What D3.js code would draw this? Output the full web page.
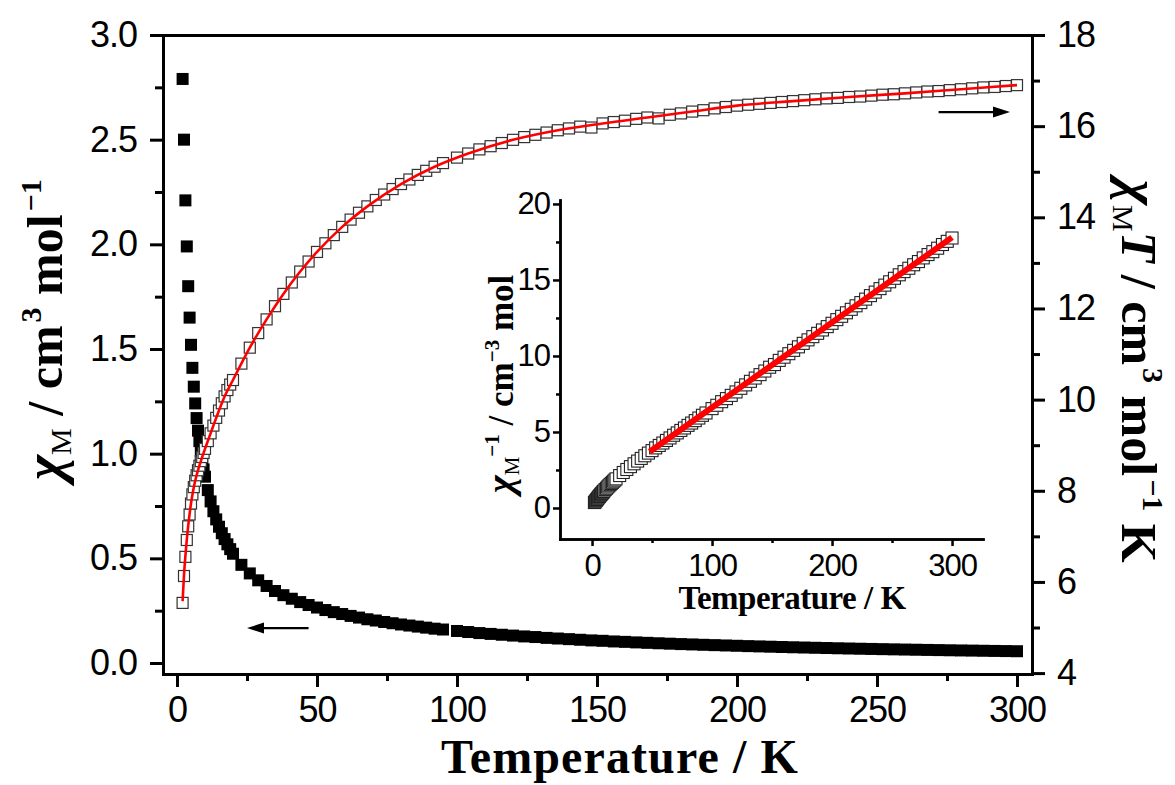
<!DOCTYPE html>
<html>
<head>
<meta charset="utf-8">
<script src="https://cdn.jsdelivr.net/npm/d3@7"></script>
<style>
  body { margin: 0; background: #fff; }
  .tick text { font-family: "Liberation Sans", Arial, sans-serif; fill: #000; }
  .serif { font-family: "Liberation Serif", "Times New Roman", serif; font-weight: bold; fill: #000; }
</style>
</head>
<body>
<svg id="chart" width="1175" height="785"></svg>
<script>
// temperature points (K), three runs
const temps = [2, 2.5, 3, 3.5, 4, 4.5, 5, 5.5, 6, 6.5, 7, 7.5, 8, 8.5, 9, 9.5, 10,
  11, 12, 13, 14, 15, 16, 17, 18, 19,
  20, 23, 26, 29, 32, 35, 38, 41, 44, 47, 50, 53, 56, 59, 62, 65, 68, 71, 74, 77, 80, 83, 86, 89, 92, 95,
  100, 104, 108, 112, 116, 120, 124, 128, 132, 136, 140, 144, 148, 152, 156, 160, 164, 168, 172, 176, 180,
  184, 188, 192, 196, 200, 204, 208, 212, 216, 220, 224, 228, 232, 236, 240, 244, 248, 252, 256, 260,
  264, 268, 272, 276, 280, 284, 288, 292, 296, 300];

// chi_M (cm3 mol-1), filled squares, left axis
const chiM = [2.79, 2.50, 2.21, 1.99, 1.80, 1.65, 1.52, 1.41, 1.32, 1.24, 1.17, 1.11, 1.06, 1.01, 0.965, 0.925, 0.89,
  0.826, 0.772, 0.725, 0.686, 0.651, 0.620, 0.592, 0.567, 0.544,
  0.522, 0.469, 0.428, 0.395, 0.368, 0.344, 0.324, 0.307, 0.291, 0.277, 0.265, 0.253, 0.243, 0.234, 0.225,
  0.217, 0.209, 0.203, 0.196, 0.190, 0.184, 0.179, 0.174, 0.169, 0.164, 0.160,
  0.153, 0.148, 0.143, 0.139, 0.135, 0.131, 0.127, 0.124, 0.120, 0.117, 0.114, 0.111, 0.108, 0.106, 0.103,
  0.101, 0.0985, 0.0964, 0.0943, 0.0923, 0.0904, 0.0887, 0.0870, 0.0854, 0.0838, 0.0823, 0.0807, 0.0793,
  0.0779, 0.0765, 0.0752, 0.0740, 0.0728, 0.0716, 0.0704, 0.0693, 0.0682, 0.0672, 0.0662, 0.0652, 0.0643,
  0.0634, 0.0625, 0.0617, 0.0608, 0.0600, 0.0593, 0.0585, 0.0577, 0.0570, 0.0563];

// chi_M T (cm3 mol-1 K), open squares, right axis
const chiMT = [5.54, 6.13, 6.55, 6.92, 7.22, 7.48, 7.72, 7.92, 8.08, 8.22, 8.34, 8.45, 8.55, 8.65, 8.74, 8.83, 8.92,
  9.09, 9.26, 9.43, 9.60, 9.76, 9.92, 10.07, 10.21, 10.33,
  10.43, 10.79, 11.14, 11.46, 11.76, 12.05, 12.32, 12.57, 12.81, 13.03, 13.24, 13.43, 13.61, 13.79, 13.95,
  14.10, 14.24, 14.38, 14.50, 14.62, 14.73, 14.83, 14.93, 15.02, 15.11, 15.19,
  15.31, 15.40, 15.49, 15.56, 15.63, 15.70, 15.76, 15.81, 15.86, 15.91, 15.95, 15.99, 15.97, 16.06, 16.09,
  16.12, 16.16, 16.19, 16.17, 16.25, 16.28, 16.32, 16.35, 16.39, 16.42, 16.45, 16.47, 16.49, 16.51, 16.53,
  16.55, 16.57, 16.59, 16.61, 16.62, 16.64, 16.65, 16.67, 16.69, 16.70, 16.72, 16.74, 16.76, 16.77, 16.79,
  16.81, 16.83, 16.85, 16.86, 16.88, 16.90];

// 1/chi_M (cm-3 mol), inset
const chiInv = [0.358, 0.400, 0.452, 0.503, 0.556, 0.606, 0.658, 0.709, 0.758, 0.806, 0.855, 0.901, 0.943, 0.990, 1.036, 1.081, 1.124,
  1.211, 1.295, 1.379, 1.458, 1.536, 1.613, 1.689, 1.764, 1.838,
  1.916, 2.132, 2.336, 2.532, 2.721, 2.907, 3.086, 3.262, 3.436, 3.610, 3.774, 3.953, 4.115, 4.274, 4.444,
  4.608, 4.785, 4.938, 5.102, 5.263, 5.435, 5.587, 5.747, 5.917, 6.098, 6.250,
  6.536, 6.757, 6.993, 7.194, 7.407, 7.634, 7.874, 8.097, 8.333, 8.547, 8.772, 9.009, 9.259, 9.434, 9.709,
  9.921, 10.15, 10.37, 10.60, 10.83, 11.06, 11.27, 11.49, 11.71, 11.93, 12.15, 12.39, 12.61, 12.84, 13.07,
  13.30, 13.51, 13.74, 13.97, 14.20, 14.43, 14.66, 14.88, 15.11, 15.34, 15.55, 15.77, 16.00, 16.21, 16.45,
  16.67, 16.86, 17.09, 17.33, 17.54, 17.76];

// fitted curves (red)
const fitT = [2, 2.5, 3, 3.5, 4, 5, 6, 7, 8, 10, 12, 14, 17, 20, 26, 32, 38, 44, 50, 59, 68, 80, 92,
  104, 120, 136, 152, 168, 184, 200, 220, 240, 260, 280, 300];
const fitChiMT = [5.58, 6.15, 6.57, 6.93, 7.23, 7.72, 8.08, 8.34, 8.55, 8.92, 9.26, 9.60, 10.07, 10.43,
  11.14, 11.76, 12.32, 12.81, 13.24, 13.79, 14.24, 14.73, 15.11, 15.40, 15.70, 15.91, 16.06, 16.19, 16.32,
  16.45, 16.55, 16.64, 16.72, 16.81, 16.90];
const invFitT = [48, 300];
const invFitVal = [3.7, 17.8];

// ticks
const xTicks = [0, 50, 100, 150, 200, 250, 300];
const xMinor = [25, 75, 125, 175, 225, 275];
const yLTicks = [0, 0.5, 1.0, 1.5, 2.0, 2.5, 3.0];
const yLMinor = [0.25, 0.75, 1.25, 1.75, 2.25, 2.75];
const yRTicks = [4, 6, 8, 10, 12, 14, 16, 18];
const yRMinor = [5, 7, 9, 11, 13, 15, 17];
const inXTicks = [0, 100, 200, 300];
const inXMinor = [50, 150, 250];
const inYTicks = [0, 5, 10, 15, 20];
const inYMinor = [2.5, 7.5, 12.5, 17.5];

const svg = d3.select('#chart');
svg.append('rect').attr('width', 1175).attr('height', 785).attr('fill', '#fff');

// main scales
const x = d3.scaleLinear().domain([-5, 305.36]).range([163, 1032]);
const yL = d3.scaleLinear().domain([-0.0525, 3]).range([674, 35]);
const yR = d3.scaleLinear().domain([3.98, 18]).range([674, 35]);

// inset scales
const xi = d3.scaleLinear().domain([-26.7, 325.8]).range([560, 983]);
const yi = d3.scaleLinear().domain([-2.04, 20.26]).range([539, 200]);

function styleAxis(g, w, fs) {
  g.select('.domain').attr('stroke', '#000').attr('stroke-width', w).attr('stroke-linecap', 'square');
  g.selectAll('.tick line').attr('stroke', '#000').attr('stroke-width', w);
  g.selectAll('.tick text').style('font-size', fs + 'px');
}

function addAxis(axisFn, scale, pos, major, minor, bigT, smallT, pad, fmt, w, fs) {
  const gMinor = svg.append('g').attr('transform', pos)
    .call(axisFn(scale).tickValues(minor).tickSize(smallT).tickSizeOuter(0).tickFormat(''));
  styleAxis(gMinor, w, fs);
  const g = svg.append('g').attr('transform', pos)
    .call(axisFn(scale).tickValues(major).tickSize(bigT).tickSizeOuter(0).tickPadding(pad).tickFormat(fmt));
  styleAxis(g, w, fs);
  return g;
}

// main frame + axes
addAxis(d3.axisBottom, x, 'translate(0,674)', xTicks, xMinor, 13, 7, 9, d3.format('d'), 3, 36);
addAxis(d3.axisLeft, yL, 'translate(163,0)', yLTicks, yLMinor, 13, 8, 13, d3.format('.1f'), 3, 36);
addAxis(d3.axisRight, yR, 'translate(1032,0)', yRTicks, yRMinor, 13, 8, 12, d3.format('d'), 3, 36);
const topAxis = svg.append('g').attr('transform', 'translate(0,35)')
  .call(d3.axisTop(x).tickValues([]).tickSizeOuter(0));
styleAxis(topAxis, 3, 36);

// chi_M filled squares
const sq = 12;
svg.append('g').selectAll('rect')
  .data(temps.map((t, i) => [t, chiM[i]]))
  .join('rect')
  .attr('x', d => x(d[0]) - sq / 2)
  .attr('y', d => yL(d[1]) - sq / 2)
  .attr('width', sq).attr('height', sq)
  .attr('fill', '#000');

// chi_M T open squares
const so = 11;
svg.append('g').selectAll('rect')
  .data(temps.map((t, i) => [t, chiMT[i]]))
  .join('rect')
  .attr('x', d => x(d[0]) - so / 2)
  .attr('y', d => yR(d[1]) - so / 2)
  .attr('width', so).attr('height', so)
  .attr('fill', '#fff').attr('stroke', '#333').attr('stroke-width', 1.2);

// fit line
svg.append('path')
  .datum(fitT.map((t, i) => [t, fitChiMT[i]]))
  .attr('fill', 'none').attr('stroke', '#ff0000').attr('stroke-width', 2.6)
  .attr('d', d3.line().x(d => x(d[0])).y(d => yR(d[1])).curve(d3.curveMonotoneX));

// arrows
function arrow(x1, x2, y) {
  const dir = Math.sign(x2 - x1);
  svg.append('line').attr('x1', x1).attr('x2', x2 - dir * 10).attr('y1', y).attr('y2', y)
    .attr('stroke', '#000').attr('stroke-width', 2.2);
  svg.append('path')
    .attr('d', `M${x2},${y} L${x2 - dir * 17},${y - 5.5} L${x2 - dir * 17},${y + 5.5} Z`)
    .attr('fill', '#000');
}
arrow(x(47), x(25), yL(0.167));
arrow(x(272), x(297.5), yR(16.31));

// inset axes
addAxis(d3.axisBottom, xi, 'translate(0,539)', inXTicks, inXMinor, 7, 4, 8, d3.format('d'), 2.5, 31);
addAxis(d3.axisLeft, yi, 'translate(560,0)', inYTicks, inYMinor, 7, 4, 3, d3.format('d'), 2.5, 31);
svg.selectAll('.tick text').style('letter-spacing', '-1px');

// inset squares
const si = 12;
svg.append('g').selectAll('rect')
  .data(temps.map((t, i) => [t, chiInv[i]]))
  .join('rect')
  .attr('x', d => xi(d[0]) - si / 2)
  .attr('y', d => yi(d[1]) - si / 2)
  .attr('width', si).attr('height', si)
  .attr('fill', '#fff').attr('stroke', '#222').attr('stroke-width', 1.1);

svg.append('path')
  .datum(invFitT.map((t, i) => [t, invFitVal[i]]))
  .attr('fill', 'none').attr('stroke', '#ff0000').attr('stroke-width', 6)
  .attr('d', d3.line().x(d => xi(d[0])).y(d => yi(d[1])));

// titles
function richText(sel, parts) {
  parts.forEach(p => {
    sel.append('tspan')
      .style('font-size', p.size + 'px')
      .style('font-style', p.italic ? 'italic' : 'normal')
      .style('font-weight', p.bold === false ? 'normal' : 'bold')
      .attr('dy', p.dy || 0)
      .attr('dx', p.dx || 0)
      .text(p.t);
  });
}

svg.append('text').attr('class', 'serif')
  .attr('x', 620).attr('y', 773).attr('text-anchor', 'middle')
  .style('font-size', '48px').style('letter-spacing', '1.1px')
  .text('Temperature / K');

svg.append('text').attr('class', 'serif')
  .attr('x', 792).attr('y', 609).attr('text-anchor', 'middle')
  .style('font-size', '33px').style('letter-spacing', '-0.5px')
  .text('Temperature / K');

const leftLab = svg.append('text').attr('class', 'serif')
  .attr('transform', 'translate(62,480) rotate(-90)');
richText(leftLab, [
  { t: 'χ', size: 54, italic: true },
  { t: 'M', size: 30, bold: false, dy: 9 },
  { t: ' / cm', size: 50, dy: -9 },
  { t: '3', size: 30, dy: -21, dx: 3 },
  { t: ' mol', size: 50, dy: 21 },
  { t: '−1', size: 30, dy: -21, dx: 3 }
]);

const rightLab = svg.append('text').attr('class', 'serif')
  .attr('transform', 'translate(1122,180) rotate(90)');
richText(rightLab, [
  { t: 'χ', size: 54, italic: true },
  { t: 'M', size: 30, bold: false, dy: 9 },
  { t: 'T', size: 50, italic: true, dy: -9 },
  { t: ' / cm', size: 50 },
  { t: '3', size: 30, dy: -21, dx: 3 },
  { t: ' mol', size: 50, dy: 21 },
  { t: '−1', size: 30, dy: -21, dx: 3 },
  { t: ' K', size: 50, dy: 21 }
]);

const insetLab = svg.append('text').attr('class', 'serif')
  .attr('transform', 'translate(513,493) rotate(-90)');
richText(insetLab, [
  { t: 'χ', size: 38, italic: true },
  { t: 'M', size: 21, bold: false, dy: 6 },
  { t: '−1', size: 21, dy: -20 },
  { t: ' / cm', size: 35, dy: 14 },
  { t: '−3', size: 21, dy: -14 },
  { t: ' mol', size: 35, dy: 14 }
]);
</script>
</body>
</html>
